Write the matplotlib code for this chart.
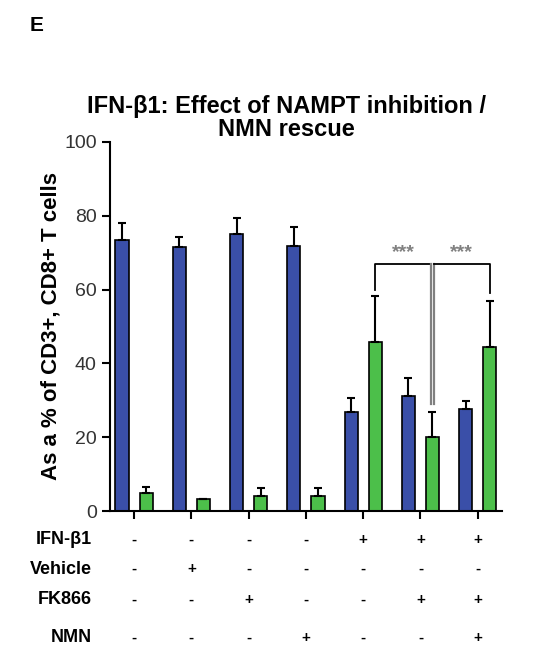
import numpy as np
import matplotlib
matplotlib.use('Agg')
import matplotlib.pyplot as plt

plt.rcParams['font.family'] = ['Liberation Sans', 'DejaVu Sans']

# bar heights and error tops
blue = [73.4, 71.4, 75.0, 71.8, 26.7, 31.2, 27.6]
blue_err = [4.7, 2.9, 4.5, 5.2, 3.8, 4.9, 2.2]
green = [4.8, 3.2, 4.1, 4.1, 45.7, 20.1, 44.4]
green_err = [1.8, 0.0, 2.2, 2.2, 12.6, 6.6, 12.5]

row_names = ['IFN-β1', 'Vehicle', 'FK866', 'NMN']
rows = [
    ['-', '-', '-', '-', '+', '+', '+'],
    ['-', '+', '-', '-', '-', '-', '-'],
    ['-', '-', '+', '-', '-', '+', '+'],
    ['-', '-', '-', '+', '-', '-', '+'],
]

fig = plt.figure(figsize=(5.46, 6.48), dpi=100)
ax = fig.add_axes([0.2015, 0.2114, 0.7175, 0.5696])

x = np.arange(len(blue))
off = 0.21
w = 0.23
ax.bar(x - off, blue, w, color='#3a4fa8', edgecolor='black', linewidth=1.2,
       yerr=[np.zeros(7), blue_err], error_kw=dict(ecolor='black', elinewidth=1.5, capsize=3, capthick=1.5))
ax.bar(x + off, green, w, color='#4cbf4a', edgecolor='black', linewidth=1.2,
       yerr=[np.zeros(7), green_err], error_kw=dict(ecolor='black', elinewidth=1.5, capsize=3, capthick=1.5))

# significance brackets
gx5, gx6, gx7 = 4 + off, 5 + off, 6 + off
ax.plot([gx5, gx5, gx6 - 0.03], [60, 67, 67], color='black', lw=1.3)
ax.plot([gx6 - 0.03, gx6 - 0.03], [29, 67], color='gray', lw=1.6)
ax.plot([gx6 + 0.03, gx6 + 0.03], [29, 67], color='gray', lw=1.6)
ax.plot([gx6 + 0.03, gx7, gx7], [67, 67, 59], color='black', lw=1.3)
ax.text((gx5 + gx6) / 2, 67.8, '***', ha='center', va='bottom', color='gray', fontsize=14, fontweight='bold')
ax.text((gx6 + gx7) / 2, 67.8, '***', ha='center', va='bottom', color='gray', fontsize=14, fontweight='bold')

ax.set_xlim(-0.42, 6.42)
ax.set_ylim(0, 100)
ax.set_yticks([0, 20, 40, 60, 80, 100])
ax.set_xticks(x)
ax.set_xticklabels([])
ax.tick_params(axis='both', direction='out', length=6, width=1.5, labelsize=14, labelcolor='#333333')
for s in ['top', 'right']:
    ax.spines[s].set_visible(False)
for s in ['left', 'bottom']:
    ax.spines[s].set_linewidth(1.5)

ax.set_ylabel('As a % of CD3+, CD8+ T cells', fontsize=16, fontweight='bold', labelpad=2)
ax.set_title('IFN-β1: Effect of NAMPT inhibition /\nNMN rescue', fontsize=17, fontweight='bold',
             pad=4, x=0.45, linespacing=1.0)

fig.text(0.055, 0.975, 'E', fontsize=15, fontweight='bold', va='top')

row_y = [540, 569, 600, 638]
for name, vals, py in zip(row_names, rows, row_y):
    yf = 1 - py / 648
    fig.text(92 / 546, yf, name, ha='right', va='center', fontsize=13, fontweight='bold')
    for xi, v in zip(x, vals):
        xd = ax.transData.transform((xi, 0))[0] / fig.bbox.width
        fig.text(xd, yf, v, ha='center', va='center', fontsize=11, fontweight='bold')

fig.savefig('out.png', dpi=100)
